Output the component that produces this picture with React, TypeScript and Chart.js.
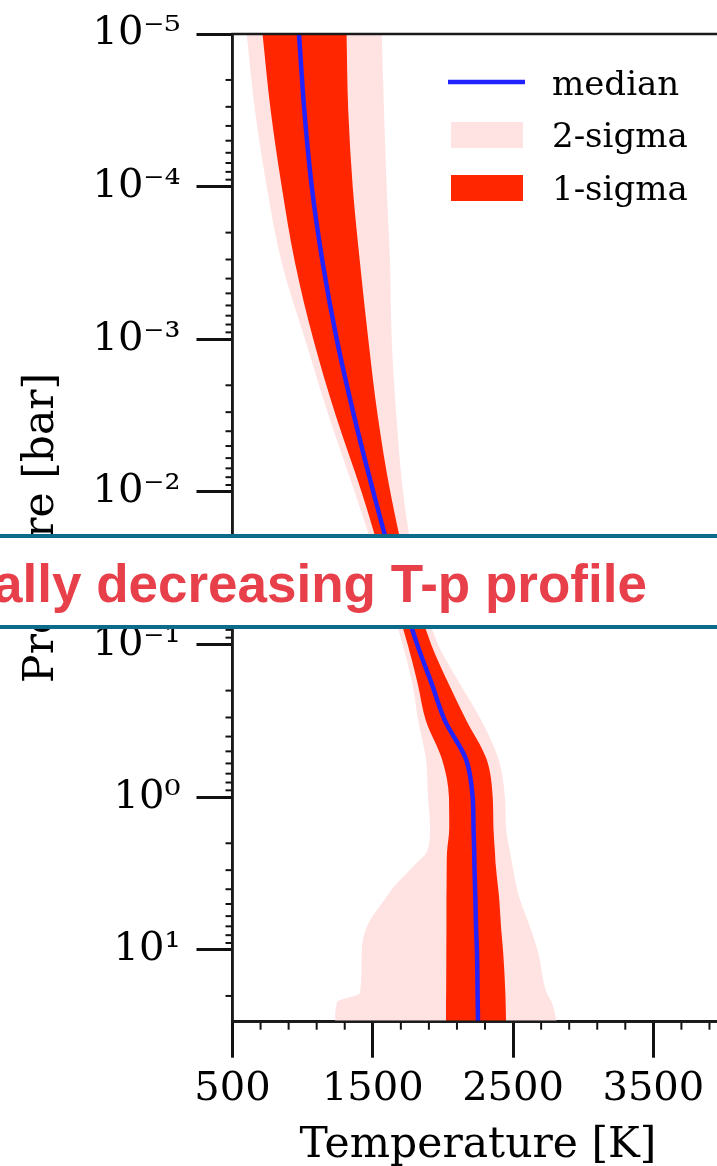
import React, { useEffect, useRef } from 'react';
import { Chart, registerables } from 'chart.js';

Chart.register(...registerables);

// Pressure levels [bar] (shared by every series)
const pressureBar = [1e-5, 3.16e-5, 1e-4, 3.16e-4, 1e-3, 3.16e-3, 1e-2, 3.16e-2, 0.1, 0.178, 0.316, 0.562, 1, 1.58, 2.29, 2.69, 3.89, 4.47, 7.08, 10.5, 19.1, 21.9, 29.5];

// Temperatures [K]
const medianT = [974, 1012, 1065, 1143, 1243, 1366, 1504, 1652, 1817, 1918, 2015, 2164, 2212, 2218, 2223, 2224, 2229, 2231, 2236, 2243, 2247, 2248, 2250];
const sigma1Low = [714, 772, 851, 946, 1076, 1236, 1420, 1585, 1749, 1819, 1879, 1993, 2043, 2045, 2029, 2027, 2026, 2025, 2025, 2024, 2023, 2022, 2022];
const sigma1High = [1313, 1325, 1357, 1409, 1468, 1535, 1625, 1747, 1917, 2038, 2169, 2311, 2355, 2360, 2371, 2375, 2393, 2400, 2414, 2430, 2445, 2447, 2450];
const sigma2Low = [601, 660, 744, 851, 1017, 1185, 1371, 1549, 1713, 1781, 1824, 1879, 1894, 1908, 1884, 1813, 1646, 1599, 1457, 1421, 1409, 1245, 1231];
const sigma2High = [1564, 1580, 1599, 1623, 1635, 1668, 1716, 1805, 1966, 2118, 2276, 2396, 2442, 2450, 2478, 2492, 2526, 2542, 2621, 2680, 2740, 2775, 2811];

// Axis ticks
const xMajorTicks = [500, 1500, 2500, 3500];
const xMinorTicks = [700, 900, 1100, 1300, 1700, 1900, 2100, 2300, 2700, 2900, 3100, 3300, 3700, 3900];
const yMajorTicks = [1e-5, 1e-4, 1e-3, 1e-2, 1e-1, 1, 10];
const yTickLabels = ['10⁻⁵', '10⁻⁴', '10⁻³', '10⁻²', '10⁻¹', '10⁰', '10¹'];
const yMinorMultipliers = [2, 3, 4, 5, 6, 7, 8, 9];

const legendLabels = ['median', '2-sigma', '1-sigma'];
const bannerText = 'ally decreasing T-p profile';

const SERIF = '"DejaVu Serif", "Liberation Serif", serif';
const BLUE = '#2222ff';
const RED = '#ff2600';
const PINK = '#ffe3e3';

const X_MIN = 500;
const X_MAX = 4000;
const Y_MIN = 1e-5;
const Y_MAX = 29.5;

const isYMajor = (v: number) => yMajorTicks.some((m) => Math.abs(Math.log10(m) - Math.log10(v)) < 1e-6);
const isXMajor = (v: number) => xMajorTicks.includes(v);

const pts = (temps: number[]) => temps.map((t, i) => ({ x: t, y: pressureBar[i] }));

const frameAndLegend = {
  id: 'frameAndLegend',
  afterDraw(chart: any) {
    const { ctx, chartArea } = chart;
    const { left, right, top, bottom } = chartArea;
    const xs = chart.scales.x;
    const ys = chart.scales.y;
    ctx.save();
    // minor ticks
    ctx.strokeStyle = '#111';
    ctx.lineWidth = 2;
    xs.ticks.forEach((t: any) => {
      if (isXMajor(t.value)) return;
      const px = xs.getPixelForValue(t.value);
      ctx.beginPath();
      ctx.moveTo(px, bottom);
      ctx.lineTo(px, bottom + 8);
      ctx.stroke();
    });
    ys.ticks.forEach((t: any) => {
      if (isYMajor(t.value)) return;
      const py = ys.getPixelForValue(t.value);
      ctx.beginPath();
      ctx.moveTo(left, py);
      ctx.lineTo(left - 7, py);
      ctx.stroke();
    });
    // frame
    ctx.strokeStyle = '#1a1a1a';
    ctx.lineWidth = 2.5;
    ctx.strokeRect(left, top, right - left, bottom - top);

    // legend
    const ds = chart.data.datasets;
    const textX = 552;
    const baselines = [94.5, 147, 199.5];
    ctx.font = `34px ${SERIF}`;
    ctx.fillStyle = '#000';
    ctx.textBaseline = 'alphabetic';
    ctx.textAlign = 'left';
    ctx.strokeStyle = ds[0].borderColor;
    ctx.lineWidth = 4.5;
    ctx.beginPath();
    ctx.moveTo(448, 82);
    ctx.lineTo(525, 82);
    ctx.stroke();
    ctx.fillText(legendLabels[0], textX, baselines[0]);
    ctx.fillStyle = ds[3].backgroundColor;
    ctx.fillRect(451, 122, 72, 26);
    ctx.fillStyle = '#000';
    ctx.fillText(legendLabels[1], textX, baselines[1]);
    ctx.fillStyle = ds[1].backgroundColor;
    ctx.fillRect(451, 175, 72, 26);
    ctx.fillStyle = '#000';
    ctx.fillText(legendLabels[2], textX, baselines[2]);
    ctx.restore();
  },
};

const CANVAS_W = 730;
const CANVAS_H = 1171;

export default function App() {
  const canvasRef = useRef<HTMLCanvasElement | null>(null);

  useEffect(() => {
    const canvas = canvasRef.current;
    if (!canvas) return;
    const common = { pointRadius: 0, tension: 0, cubicInterpolationMode: 'monotone' };
    const chart = new Chart(canvas, {
      type: 'line',
      data: {
        datasets: [
          { ...common, label: 'median', data: pts(medianT), borderColor: BLUE, borderWidth: 4.5, fill: false },
          { ...common, label: '1-sigma', data: pts(sigma1Low), borderColor: 'rgba(0,0,0,0)', borderWidth: 0, backgroundColor: RED, fill: '+1' },
          { ...common, label: '1-sigma upper', data: pts(sigma1High), borderColor: 'rgba(0,0,0,0)', borderWidth: 0, fill: false },
          { ...common, label: '2-sigma', data: pts(sigma2Low), borderColor: 'rgba(0,0,0,0)', borderWidth: 0, backgroundColor: PINK, fill: '+1' },
          { ...common, label: '2-sigma upper', data: pts(sigma2High), borderColor: 'rgba(0,0,0,0)', borderWidth: 0, fill: false },
        ] as any,
      },
      options: {
        indexAxis: 'y',
        responsive: false,
        maintainAspectRatio: false,
        animation: false,
        devicePixelRatio: 1,
        layout: { padding: { top: 34, right: CANVAS_W - 723.5, left: 0, bottom: 0 } },
        plugins: { legend: { display: false }, tooltip: { enabled: false }, title: { display: false } },
        scales: {
          x: {
            type: 'linear',
            position: 'bottom',
            min: X_MIN,
            max: X_MAX,
            afterBuildTicks: (s: any) => {
              s.ticks = [...xMajorTicks, ...xMinorTicks].sort((a, b) => a - b).map((v) => ({ value: v }));
            },
            afterFit: (s: any) => {
              s.height = CANVAS_H - 1021.7;
              s.paddingLeft = 0;
              s.paddingRight = 0;
            },
            grid: {
              display: true,
              drawOnChartArea: false,
              drawTicks: true,
              tickLength: 36,
              tickWidth: 3,
              tickColor: (c: any) => (c.tick && isXMajor(c.tick.value) ? '#111' : 'rgba(0,0,0,0)'),
            },
            border: { display: true, color: '#1a1a1a', width: 2.5 },
            ticks: {
              autoSkip: false,
              maxRotation: 0,
              minRotation: 0,
              padding: 8,
              color: '#000',
              font: { family: SERIF, size: 40 },
              callback: (v: any) => (isXMajor(Number(v)) ? String(v) : ''),
            },
            title: { display: true, text: 'Temperature [K]', color: '#000', font: { family: SERIF, size: 42.5 }, padding: { top: 0, bottom: 0 } },
          },
          y: {
            type: 'logarithmic',
            position: 'left',
            reverse: true,
            min: Y_MIN,
            max: Y_MAX,
            afterBuildTicks: (s: any) => {
              const vals: number[] = [];
              yMajorTicks.forEach((m) => {
                vals.push(m);
                yMinorMultipliers.forEach((k) => {
                  const v = m * k;
                  if (v <= Y_MAX) vals.push(v);
                });
              });
              s.ticks = vals.sort((a, b) => a - b).map((v) => ({ value: v }));
            },
            afterFit: (s: any) => {
              s.width = 232.5;
              s.paddingTop = 0;
              s.paddingBottom = 0;
            },
            grid: {
              display: true,
              drawOnChartArea: false,
              drawTicks: true,
              tickLength: 36,
              tickWidth: 3,
              tickColor: (c: any) => (c.tick && isYMajor(c.tick.value) ? '#111' : 'rgba(0,0,0,0)'),
            },
            border: { display: true, color: '#1a1a1a', width: 2.5 },
            ticks: {
              autoSkip: false,
              padding: 16,
              color: '#000',
              font: { family: SERIF, size: 40 },
              callback: (v: any) => {
                const idx = yMajorTicks.findIndex((m) => Math.abs(Math.log10(m) - Math.log10(Number(v))) < 1e-6);
                return idx >= 0 ? yTickLabels[idx] : '';
              },
            },
            title: { display: true, text: 'Pressure [bar]', color: '#000', font: { family: SERIF, size: 42.5 }, padding: { top: 16.5, bottom: 0 } },
          },
        },
      } as any,
      plugins: [frameAndLegend],
    });
    return () => chart.destroy();
  }, []);

  return (
    <div style={{ position: 'absolute', left: 0, top: 0, width: 717, height: 1166, overflow: 'hidden', background: '#fff' }}>
      <canvas ref={canvasRef} width={CANVAS_W} height={CANVAS_H} style={{ position: 'absolute', left: 0, top: 0, width: CANVAS_W, height: CANVAS_H, display: 'block' }} />
      <div
        style={{
          position: 'absolute',
          left: 0,
          top: 534,
          width: 717,
          height: 95,
          boxSizing: 'border-box',
          background: '#fff',
          borderTop: '4px solid #0c6b8b',
          borderBottom: '4px solid #0c6b8b',
        }}
      />
      <div
        style={{
          position: 'absolute',
          left: -7,
          top: 557,
          whiteSpace: 'nowrap',
          fontFamily: '"Liberation Sans", Arial, Helvetica, sans-serif',
          fontWeight: 'bold',
          fontSize: 53,
          lineHeight: '53px',
          color: '#e8404a',
        }}
      >
        {bannerText}
      </div>
    </div>
  );
}
